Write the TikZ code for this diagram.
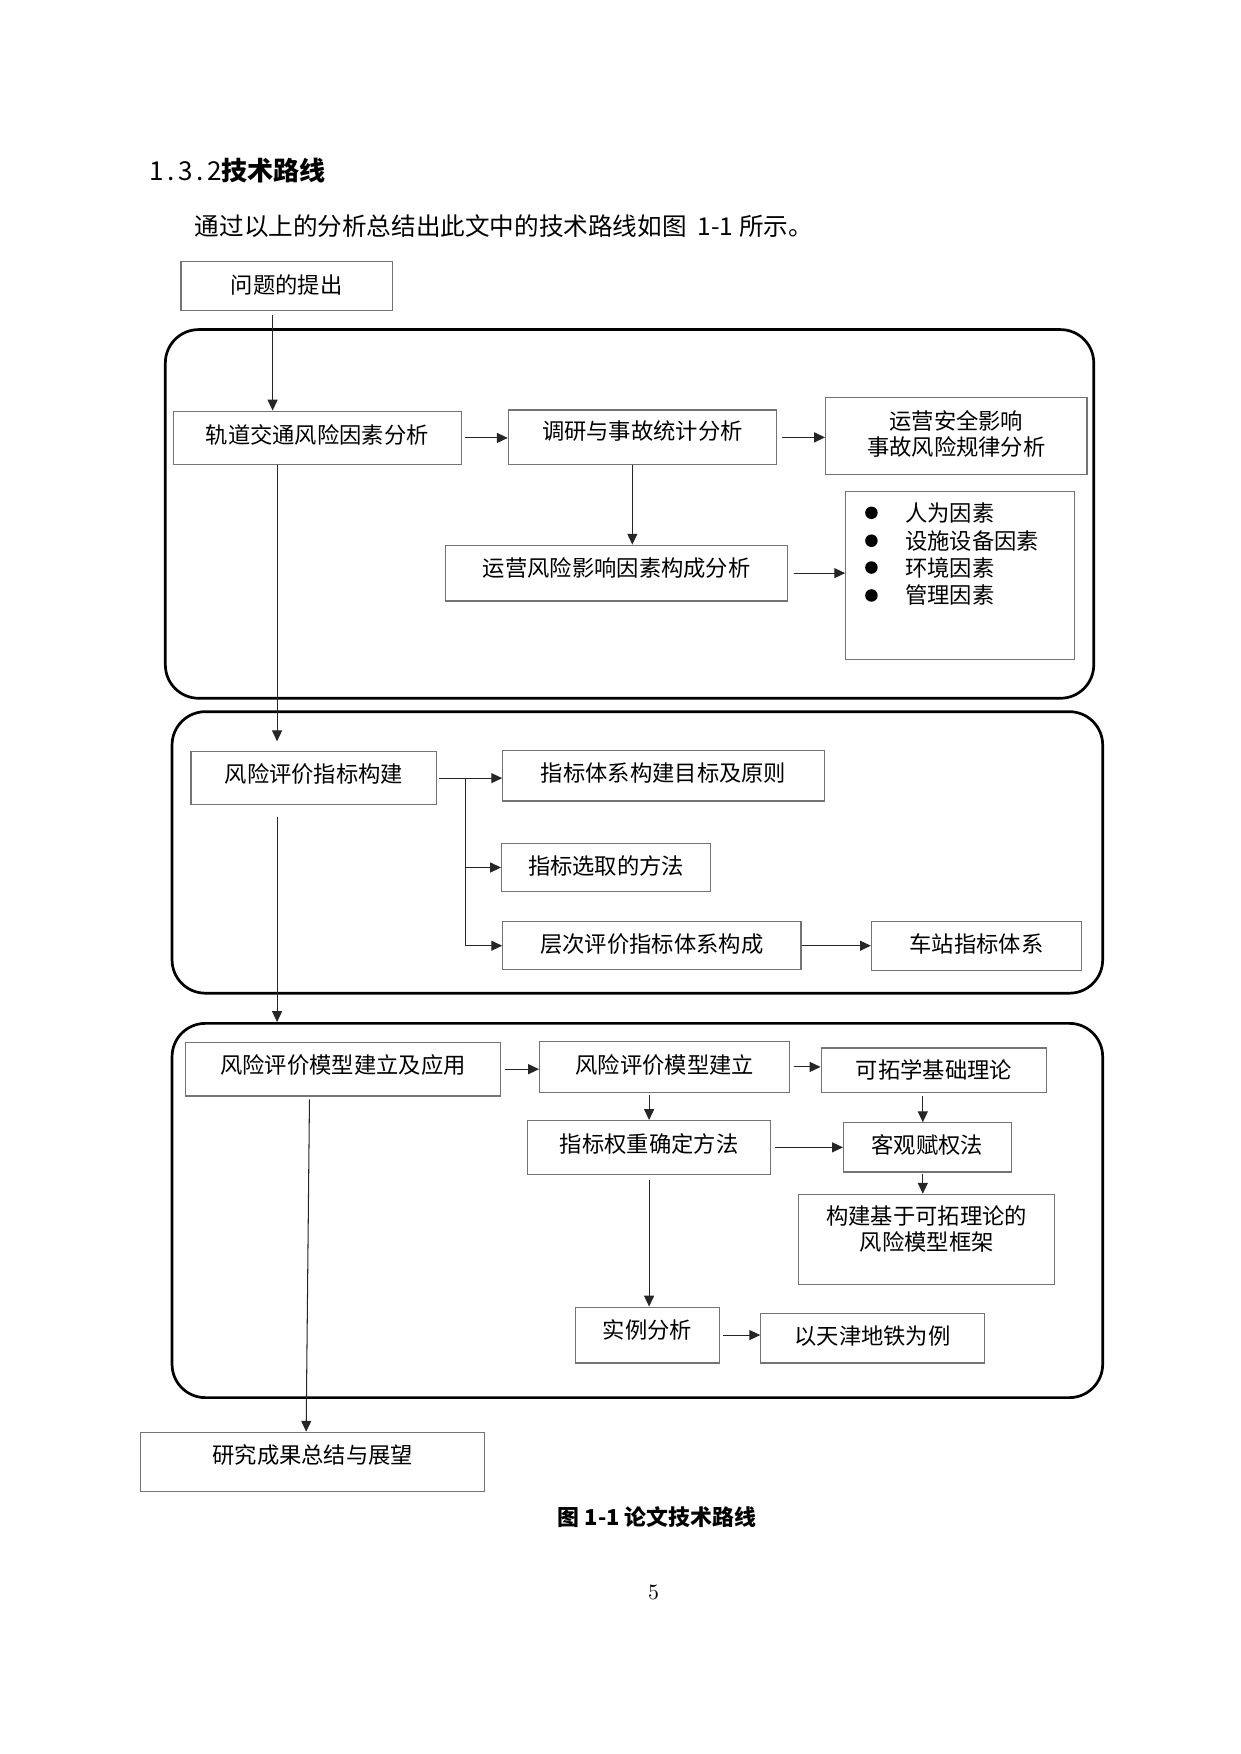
\documentclass[tikz,border=0pt]{standalone}
\usepackage{fontspec}
\usetikzlibrary{arrows.meta,calc}
\newfontfamily\cjk{Noto Sans CJK SC}

\newcommand\flowbox[7]{%
  \node[fbox, minimum width={(#4-#2)*0.536pt}, minimum height={(#5-#3)*0.536pt}] (#1) at ({(#2+#4)/2},{(#3+#5)/2}) {};
  \node[ftext] (#1-t) at ({(#2+#4)/2},#6) {#7};
}
\newcommand\roundframe[5]{%
  \node[rframe, minimum width={(#4-#2)*0.536pt}, minimum height={(#5-#3)*0.536pt}] (#1) at ({(#2+#4)/2},{(#3+#5)/2}) {};
}

\begin{document}
\begin{tikzpicture}[x=0.536pt, y=-0.536pt,
  fbox/.style={draw=black!55, line width=0.55pt, inner sep=0pt, rectangle},
  ftext/.style={font=\cjk\fontsize{10.7}{12.6}\selectfont, inner sep=0pt, align=center},
  rframe/.style={draw=black, line width=1.3pt, rounded corners=16pt, inner sep=0pt, rectangle},
  conn/.style={draw=black!85, line width=0.5pt},
  arr/.style={conn, -{Triangle[length=5.2pt,width=4.8pt]}}]
\useasboundingbox (0,0) rectangle (1110,1570);

% heading and text
\node[anchor=west, inner sep=0pt] (head) at (133,153) {\cjk\fontsize{12.5}{15}\selectfont {\addfontfeatures{LetterSpace=14}1.3.2}{\bfseries 技术路线}};
\node[anchor=west, inner sep=0pt] (para) at (174,202) {\cjk\fontsize{11.8}{14}\selectfont 通过以上的分析总结出此文中的技术路线如图\ \ 1-1 所示。};

% frames
\roundframe{fr1}{148}{295}{979}{625}
\roundframe{fr2}{154}{637}{987}{889}
\roundframe{fr3}{154}{916}{987}{1251}

% boxes
\flowbox{q}{162}{234}{351}{278}{255}{问题的提出}
\flowbox{r1}{155}{368}{413}{416}{389}{轨道交通风险因素分析}
\flowbox{r2}{455}{367}{695}{416}{386}{调研与事故统计分析}
\flowbox{r3}{739}{356}{973}{425}{388.5}{运营安全影响\\事故风险规律分析}
\flowbox{r4}{399}{488}{705}{538}{508}{运营风险影响因素构成分析}
\node[fbox, minimum width={(962-757)*0.536pt}, minimum height={(590-440)*0.536pt}] (r5) at ({(757+962)/2},{(440+590)/2}) {};
\fill (780,459) circle (3pt);
\fill (780,484) circle (3pt);
\fill (780,508) circle (3pt);
\fill (780,533) circle (3pt);
\node[ftext, anchor=west] (b1) at (810,459) {人为因素};
\node[ftext, anchor=west] (b2) at (810,484) {设施设备因素};
\node[ftext, anchor=west] (b3) at (810,508) {环境因素};
\node[ftext, anchor=west] (b4) at (810,533) {管理因素};

\flowbox{s1}{171}{673}{391}{720}{693}{风险评价指标构建}
\flowbox{s2}{450}{672}{738}{717}{692}{指标体系构建目标及原则}
\flowbox{s3}{449}{755}{636}{798}{775}{指标选取的方法}
\flowbox{s4}{450}{825}{717}{868}{845}{层次评价指标体系构成}
\flowbox{s5}{780}{825}{968}{869}{845}{车站指标体系}

\flowbox{t1}{166}{933}{448}{981}{953}{风险评价模型建立及应用}
\flowbox{t2}{483}{932}{707}{978}{953}{风险评价模型建立}
\flowbox{t3}{735}{938}{937}{978}{958}{可拓学基础理论}
\flowbox{t4}{472}{1003}{690}{1051}{1024}{指标权重确定方法}
\flowbox{t5}{755}{1005}{905}{1049}{1025}{客观赋权法}
\flowbox{t6}{715}{1069}{944}{1150}{1100}{构建基于可拓理论的\\风险模型框架}
\flowbox{t7}{515}{1170}{644}{1220}{1190}{实例分析}
\flowbox{t8}{681}{1176}{881}{1220}{1196}{以天津地铁为例}
\flowbox{u1}{126}{1282}{434}{1335}{1302}{研究成果总结与展望}

% caption and page number
\node[inner sep=0pt] (cap) at (588,1358) {\cjk\bfseries\fontsize{10.5}{12}\selectfont 图 1-1 论文技术路线};
\node[inner sep=0pt] (pg) at (585,1425) {\fontsize{10.5}{12}\selectfont 5};

% connectors
\coordinate (q-o) at (244,282);
\draw[arr] (q-o) -- (q-o |- r1.north);
\draw[arr, shorten <=1.6pt] (r1.east) -- (r1.east -| r2.west);
\draw[arr, shorten <=2.6pt] (r2.east) -- (r2.east -| r3.west);
\coordinate (r2-o) at (566,416);
\draw[arr] (r2-o) -- (r2-o |- r4.north);
\draw[arr, shorten <=2.6pt] (r4.east) -- (r4.east -| r5.west);
\coordinate (r1-o) at (248,416);
\draw[arr, shorten >=4.8pt] (r1-o) -- (r1-o |- s1.north);

\coordinate (sj) at (417,696.5);
\draw[arr, shorten <=1pt] (s1.east) -- (s1.east -| s2.west);
\draw[arr] (sj) |- (s3.west);
\draw[arr] (sj) |- (s4.west);
\draw[arr] (s4.east) -- (s4.east -| s5.west);
\coordinate (s1-o) at (248,731);
\draw[arr] (s1-o) -- (s1-o |- fr3.north);

\draw[arr, shorten <=2pt] (t1.east) -- (t1.east -| t2.west);
\draw[arr, shorten <=1.6pt] (t2.east) -- (t2.east -| t3.west);
\coordinate (t3-o) at (826,981);
\draw[arr] (t3-o) -- (t3-o |- t5.north);
\draw[arr, shorten <=1pt] (t4.north |- t2.south) -- (t4.north);
\draw[arr, shorten <=1.6pt] (t4.east) -- (t4.east -| t5.west);
\coordinate (t5-o) at (826,1051);
\draw[arr] (t5-o) -- (t5-o |- t6.north);
\draw[arr, shorten <=2.6pt] (t4.south) -- (t4.south |- t7.north);
\draw[arr, shorten <=1.6pt] (t7.east) -- (t7.east -| t8.west);
\coordinate (t1-o) at (277,984);
\draw[arr] (t1-o) -- ([xshift=-3.2pt]u1.north);
\end{tikzpicture}
\end{document}
